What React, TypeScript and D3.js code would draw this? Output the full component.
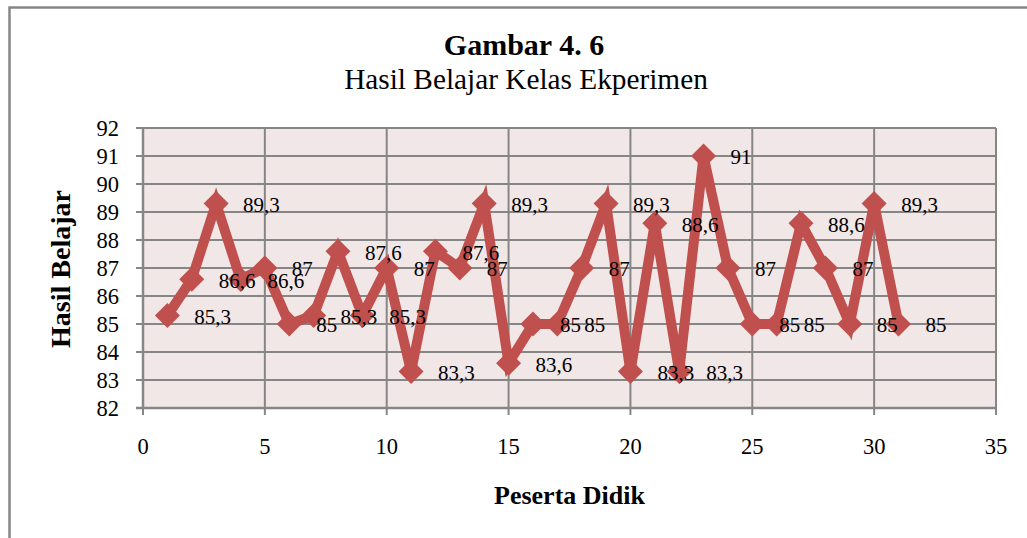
import React, { useEffect, useRef } from "react";
import * as d3 from "d3";

const participants: number[] = [
  1, 2, 3, 4, 5, 6, 7, 8, 9, 10, 11, 12, 13, 14, 15, 16, 17, 18, 19, 20, 21, 22, 23, 24, 25, 26, 27, 28, 29, 30, 31,
];
const scores: number[] = [
  85.3, 86.6, 89.3, 86.6, 87, 85, 85.3, 87.6, 85.3, 87, 83.3, 87.6, 87, 89.3, 83.6, 85, 85, 87, 89.3, 83.3, 88.6,
  83.3, 91, 87, 85, 85, 88.6, 87, 85, 89.3, 85,
];
const xTicks: number[] = [0, 5, 10, 15, 20, 25, 30, 35];
const yTicks: number[] = [82, 83, 84, 85, 86, 87, 88, 89, 90, 91, 92];

const titleText = "Gambar 4. 6";
const subtitleText = "Hasil Belajar Kelas Ekperimen";
const xTitle = "Peserta Didik";
const yTitle = "Hasil Belajar";

const W = 1027;
const H = 538;
const FONT = "'Liberation Serif', 'Times New Roman', serif";

export default function App() {
  const ref = useRef<SVGSVGElement | null>(null);

  useEffect(() => {
    const svg = d3.select(ref.current);
    svg.selectAll("*").remove();

    const left = 143, right = 996, top = 128, bottom = 408;
    const x = d3.scaleLinear().domain([0, 35]).range([left, right]);
    const y = d3.scaleLinear().domain([82, 92]).range([bottom, top]);
    const grid = "#868686";

    // outer chart border
    svg.append("rect")
      .attr("x", 9.5).attr("y", 7.5)
      .attr("width", W + 20).attr("height", H + 20)
      .attr("fill", "white").attr("stroke", grid).attr("stroke-width", 2.5);

    // plot background
    svg.append("rect")
      .attr("x", left).attr("y", top)
      .attr("width", right - left).attr("height", bottom - top)
      .attr("fill", "#f2e7e7");

    // horizontal gridlines
    svg.append("g").selectAll("line").data(yTicks).join("line")
      .attr("x1", left).attr("x2", right)
      .attr("y1", (d) => y(d)).attr("y2", (d) => y(d))
      .attr("stroke", grid).attr("stroke-width", 2);

    // vertical gridlines
    svg.append("g").selectAll("line").data(xTicks).join("line")
      .attr("x1", (d) => x(d)).attr("x2", (d) => x(d))
      .attr("y1", top).attr("y2", bottom)
      .attr("stroke", grid).attr("stroke-width", 2);

    // y ticks
    svg.append("g").selectAll("line").data(yTicks).join("line")
      .attr("x1", left - 7).attr("x2", left)
      .attr("y1", (d) => y(d)).attr("y2", (d) => y(d))
      .attr("stroke", grid).attr("stroke-width", 2);
    // x ticks
    svg.append("g").selectAll("line").data(xTicks).join("line")
      .attr("x1", (d) => x(d)).attr("x2", (d) => x(d))
      .attr("y1", bottom).attr("y2", bottom + 7)
      .attr("stroke", grid).attr("stroke-width", 2);
    // axis lines
    svg.append("line").attr("x1", left).attr("x2", left).attr("y1", top).attr("y2", bottom)
      .attr("stroke", grid).attr("stroke-width", 2.5);
    svg.append("line").attr("x1", left - 7).attr("x2", right).attr("y1", bottom).attr("y2", bottom)
      .attr("stroke", grid).attr("stroke-width", 2.5);

    // y tick labels
    svg.append("g").selectAll("text").data(yTicks).join("text")
      .attr("x", 119).attr("y", (d) => y(d))
      .attr("dy", "0.35em")
      .attr("text-anchor", "end")
      .attr("font-family", FONT).attr("font-size", 22.5)
      .text((d) => String(d));

    // x tick labels
    svg.append("g").selectAll("text").data(xTicks).join("text")
      .attr("x", (d) => x(d)).attr("y", 454)
      .attr("text-anchor", "middle")
      .attr("font-family", FONT).attr("font-size", 22.5)
      .text((d) => String(d));

    const data = participants.map((p, i) => ({ p, v: scores[i] }));

    // line
    const line = d3.line<{ p: number; v: number }>().x((d) => x(d.p)).y((d) => y(d.v));
    svg.append("path").datum(data)
      .attr("d", line)
      .attr("fill", "none").attr("stroke", "#c0504d")
      .attr("stroke-width", 10).attr("stroke-linejoin", "miter");

    // markers (diamonds)
    const r = 12.5;
    const diamond = d3.symbol().type(d3.symbolSquare).size(2 * r * r);
    svg.append("g").selectAll("path").data(data).join("path")
      .attr("d", diamond as any)
      .attr("transform", (d) => `translate(${x(d.p)},${y(d.v)}) rotate(45)`)
      .attr("fill", "#c0504d");

    // data labels
    svg.append("g").selectAll("text").data(data).join("text")
      .attr("x", (d) => x(d.p) + 27).attr("y", (d) => y(d.v) + 1)
      .attr("dy", "0.35em")
      .attr("font-family", FONT).attr("font-size", 21)
      .text((d) => String(d.v).replace(".", ","));

    // titles
    svg.append("text").attr("x", 524).attr("y", 55).attr("text-anchor", "middle")
      .attr("font-family", FONT).attr("font-size", 30).attr("font-weight", "bold")
      .text(titleText);
    svg.append("text").attr("x", 526).attr("y", 89).attr("text-anchor", "middle")
      .attr("font-family", FONT).attr("font-size", 29.3)
      .text(subtitleText);

    svg.append("text").attr("x", (left + right) / 2).attr("y", 504).attr("text-anchor", "middle")
      .attr("font-family", FONT).attr("font-size", 26).attr("font-weight", "bold")
      .text(xTitle);
    svg.append("text")
      .attr("transform", `translate(70,269) rotate(-90)`)
      .attr("text-anchor", "middle")
      .attr("font-family", FONT).attr("font-size", 28).attr("font-weight", "bold")
      .text(yTitle);
  }, []);

  return (
    <svg
      ref={ref}
      width={W}
      height={H}
      style={{ position: "absolute", left: 0, top: 0, background: "white" }}
    />
  );
}
